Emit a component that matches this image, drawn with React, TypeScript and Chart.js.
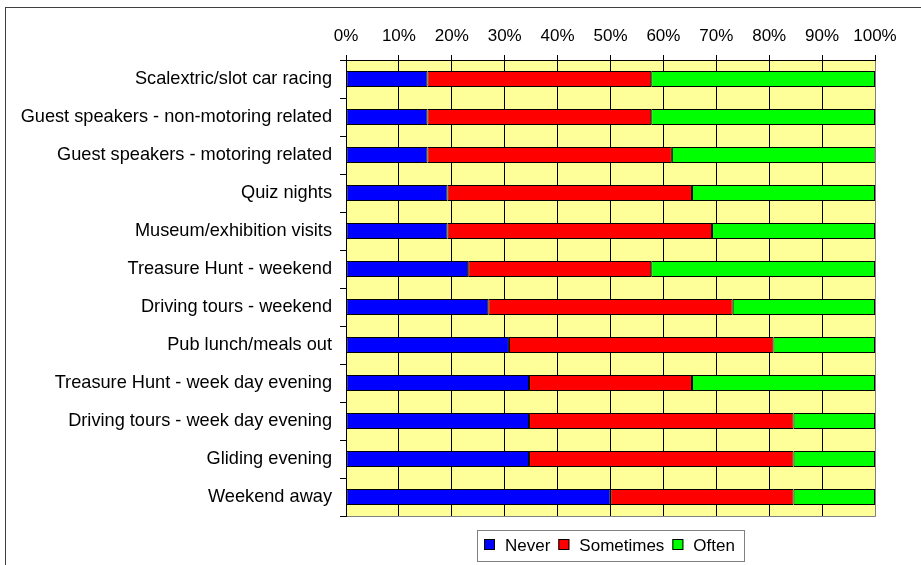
import { useEffect, useRef } from "react";
import { Chart, registerables } from "chart.js";

Chart.register(...registerables);

const categories = [
  "Scalextric/slot car racing",
  "Guest speakers - non-motoring related",
  "Guest speakers - motoring related",
  "Quiz nights",
  "Museum/exhibition visits",
  "Treasure Hunt - weekend",
  "Driving tours - weekend",
  "Pub lunch/meals out",
  "Treasure Hunt - week day evening",
  "Driving tours - week day evening",
  "Gliding evening",
  "Weekend away",
];

const never = [15.4, 15.4, 15.4, 19.2, 19.2, 23.1, 26.9, 30.8, 34.6, 34.6, 34.6, 50.0];
const sometimes = [42.3, 42.3, 46.2, 46.2, 50.0, 34.6, 46.2, 50.0, 30.8, 50.0, 50.0, 34.6];
const often = [42.3, 42.3, 38.5, 34.6, 30.8, 42.3, 26.9, 19.2, 34.6, 15.4, 15.4, 15.4];

const seriesNames = ["Never", "Sometimes", "Often"];
const seriesColors = ["#0000FF", "#FF0000", "#00FF00"];

const FONT = "'Liberation Sans', Arial, sans-serif";

const plotBg = {
  id: "plotBg",
  beforeDraw(chart: any) {
    const { ctx, chartArea: a } = chart;
    ctx.save();
    ctx.fillStyle = "#FFFF99";
    ctx.fillRect(a.left, a.top, a.right - a.left, a.bottom - a.top);
    ctx.restore();
  },
};

const plotFrame = {
  id: "plotFrame",
  afterDatasetsDraw(chart: any) {
    const { ctx, chartArea: a } = chart;
    ctx.save();
    ctx.strokeStyle = "#808080";
    ctx.lineWidth = 1;
    const r = Math.round(a.right) + 0.5;
    const b = Math.round(a.bottom) + 0.5;
    ctx.beginPath();
    ctx.moveTo(r, Math.round(a.top) + 1);
    ctx.lineTo(r, b);
    ctx.lineTo(Math.round(a.left) + 1, b);
    ctx.stroke();
    ctx.restore();
  },
};

const boxLegend = {
  id: "boxLegend",
  afterDraw(chart: any) {
    const { ctx, chartArea: a } = chart;
    const ds = chart.data.datasets;
    ctx.save();
    ctx.font = `17px ${FONT}`;
    const sq = 11;
    const gapBoxText = 10;
    const gapItems = 8;
    const padL = 7;
    const padR = 9;
    const widths = ds.map((d: any) => ctx.measureText(d.label).width);
    const content =
      widths.reduce((s: number, w: number) => s + sq + gapBoxText + w, 0) +
      gapItems * (ds.length - 1);
    const boxW = Math.round(padL + content + padR);
    const cx = (a.left + a.right) / 2;
    const x0 = Math.round(cx - boxW / 2);
    const y0 = Math.round(a.bottom) + 14;
    const h = 31;
    ctx.strokeStyle = "#808080";
    ctx.lineWidth = 1;
    ctx.strokeRect(x0 + 0.5, y0 + 0.5, boxW, h);
    let x = x0 + padL;
    const midY = y0 + 15;
    ds.forEach((d: any, i: number) => {
      ctx.fillStyle = d.backgroundColor;
      ctx.fillRect(x, midY - 6, sq, sq);
      ctx.strokeStyle = "#000";
      ctx.strokeRect(x + 0.5, midY - 6 + 0.5, sq - 1, sq - 1);
      x += sq + gapBoxText;
      ctx.fillStyle = "#000";
      ctx.textBaseline = "middle";
      ctx.textAlign = "left";
      ctx.fillText(d.label, x, midY + 1);
      x += widths[i] + gapItems;
    });
    ctx.restore();
  },
};

export default function App() {
  const ref = useRef<HTMLCanvasElement | null>(null);

  useEffect(() => {
    if (!ref.current) return;
    const seriesValues = [never, sometimes, often];
    const chart = new Chart(ref.current, {
      type: "bar",
      data: {
        labels: categories,
        datasets: seriesNames.map((name, i) => ({
          label: name,
          data: seriesValues[i],
          backgroundColor: seriesColors[i],
          borderColor: "#000000",
          borderWidth: 1,
          borderSkipped: false,
          barPercentage: 0.42,
          categoryPercentage: 1,
        })),
      },
      options: {
        indexAxis: "y",
        responsive: false,
        animation: false,
        devicePixelRatio: 1,
        events: [],
        layout: { padding: { left: 0, top: 0, right: 46, bottom: 49 } },
        plugins: {
          legend: { display: false },
          tooltip: { enabled: false },
          title: { display: false },
        },
        scales: {
          x: {
            position: "top",
            stacked: true,
            min: 0,
            max: 100,
            afterFit: (scale: any) => {
              scale.height = 60;
            },
            ticks: {
              stepSize: 10,
              color: "#000",
              padding: 8,
              font: { size: 17, family: FONT },
              callback: (v: any) => `${v}%`,
            },
            grid: {
              color: "#000",
              lineWidth: 1,
              drawTicks: true,
              tickLength: 5,
              tickColor: "#000",
            },
            border: { display: true, color: "#000", width: 1 },
          },
          y: {
            stacked: true,
            afterFit: (scale: any) => {
              scale.width = 346;
            },
            ticks: {
              color: "#000",
              padding: 8,
              font: { size: 18.2, family: FONT },
            },
            grid: {
              offset: true,
              drawOnChartArea: false,
              drawTicks: true,
              tickLength: 6,
              tickColor: "#000",
              color: "#000",
            },
            border: { display: true, color: "#000", width: 1 },
          },
        },
      },
      plugins: [plotBg, plotFrame, boxLegend],
    } as any);
    return () => chart.destroy();
  }, []);

  return (
    <div
      style={{
        position: "fixed",
        left: 0,
        top: 0,
        width: 921,
        height: 565,
        background: "#fff",
        overflow: "hidden",
      }}
    >
      <div
        style={{
          position: "absolute",
          left: 5,
          top: 7,
          width: 960,
          height: 620,
          borderLeft: "1px solid #404040",
          borderTop: "1px solid #404040",
        }}
      />
      <canvas
        ref={ref}
        width={921}
        height={565}
        style={{ position: "absolute", left: 0, top: 0, width: 921, height: 565 }}
      />
    </div>
  );
}
